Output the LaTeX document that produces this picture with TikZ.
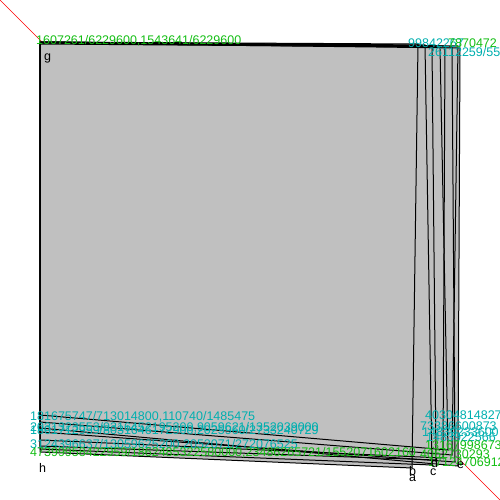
\documentclass[tikz,border=0pt]{standalone}
\usepackage{fontspec}
\setmainfont{Liberation Sans}
\definecolor{fillgray}{RGB}{192,192,192}
\definecolor{lblgreen}{RGB}{20,190,20}
\definecolor{lblcyan}{RGB}{0,175,175}
\begin{document}
\begin{tikzpicture}[x=1pt,y=-1pt,
  face/.style={fill=fillgray},
  edge/.style={draw=black,line width=1pt},
  lbl/.style={inner sep=0pt,anchor=base west,font=\fontsize{12.5}{12.5}\selectfont},
  gl/.style={lbl,text=lblgreen},
  cl/.style={lbl,text=lblcyan},
  vl/.style={lbl,text=black}]
\useasboundingbox (0,0) rectangle (500,500);
\draw[red,line width=0.6pt] (0,0) -- (500,500);
% faces
\foreach \p in {
 {(40,42) -- (418,44) -- (412,468) -- (40,452)},
 {(40,42) -- (425,45) -- (432,465) -- (40,449)},
 {(40,43) -- (432,46) -- (436,460) -- (40,446)},
 {(40,42) -- (445,46) -- (443,458) -- (40,440)},
 {(40,44) -- (452,47) -- (455,462) -- (40,432)},
 {(40,43) -- (460,48) -- (458,466) -- (40,428)},
 {(40,42) -- (458,46) -- (452,455) -- (40,422)},
 {(40,42) -- (440,47) -- (448,450) -- (40,415)}}
 {\fill[face] \p -- cycle;}
\foreach \p in {
 {(40,42) -- (418,44) -- (412,468) -- (40,452)},
 {(40,42) -- (425,45) -- (432,465) -- (40,449)},
 {(40,43) -- (432,46) -- (436,460) -- (40,446)},
 {(40,42) -- (445,46) -- (443,458) -- (40,440)},
 {(40,44) -- (452,47) -- (455,462) -- (40,432)},
 {(40,43) -- (460,48) -- (458,466) -- (40,428)},
 {(40,42) -- (458,46) -- (452,455) -- (40,422)},
 {(40,42) -- (440,47) -- (448,450) -- (40,415)}}
 {\draw[edge] \p -- cycle;}
% labels
\node[gl] (t1) at (36,45) {1607261/6229600,1543641/6229600};
\node[cl] (r1) at (408,48) {99842267};
\node[gl] (r2) at (448,48) {7870472};
\node[cl] (r3) at (428,57) {26112259/55};
\node[cl] (b1) at (30,420) {181675747/713014800,110740/1485475};
\node[cl] (b2) at (30,431) {2031323553/9316452195200,9059621/1352039000};
\node[cl] (b3) at (30,434) {1801712959/8031646172900,2025960/2733240729};
\node[cl] (b4) at (30,448) {3124396637/13059625200,2052071/272076525};
\node[gl] (b5) at (30,456) {47399958422959/1862485322580000,23486265721/1552071602160};
\node[cl] (c1) at (425,419) {40304814827/6};
\node[cl] (c2) at (420,430) {73386600873};
\node[cl] (c3) at (422,436) {14839233600};
\node[cl] (c4) at (426,441) {1483922566};
\node[gl] (c5) at (425,449) {1316799867321};
\node[gl] (c6) at (420,458) {4062730293};
\node[gl] (c7) at (428,466) {171247069129495};
\node[vl] (g) at (44,61) {g};
\node[vl] (h) at (39,472) {h};
\node[vl] (b) at (409,475) {b};
\node[vl] (a) at (409,481) {a};
\node[vl] (c) at (430,475) {c};
\node[vl] (d) at (431,467) {d};
\node[vl] (e) at (457,468) {e};
\end{tikzpicture}
\end{document}
